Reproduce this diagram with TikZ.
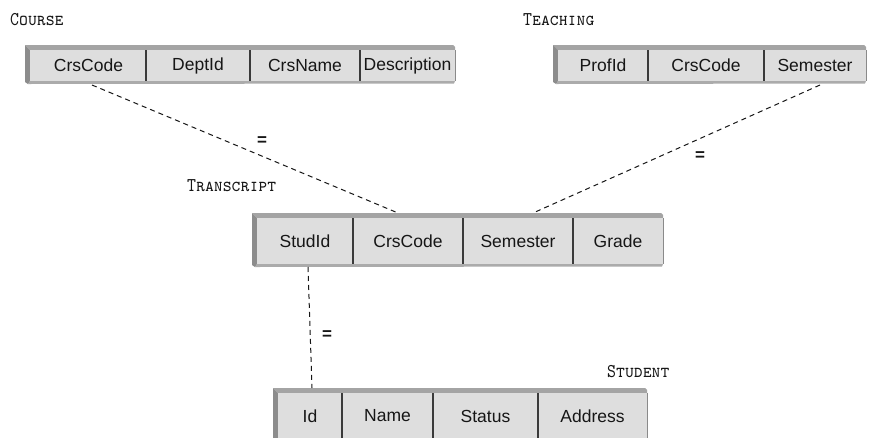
\documentclass[tikz,border=0pt]{standalone}
\usepackage{fontspec}
\setsansfont{Liberation Sans}
\usetikzlibrary{calc}

\definecolor{facegray}{HTML}{DEDEDE}
\definecolor{bandtop}{HTML}{A4A4A4}
\definecolor{bandleft}{HTML}{8C8C8C}
\definecolor{bandbottom}{HTML}{ABABAB}
\definecolor{edgegray}{HTML}{8A8A8A}
\definecolor{inkgray}{HTML}{161616}
\definecolor{divgray}{HTML}{3A3A3A}

% 3-D frame of a relation: #1 outer left, #2 outer top, #3 right, #4 face bottom
\newcommand\relframe[4]{%
  \fill[bandtop] (#1,#2) -- (#3-2,#2) -- (#3,#2+2) -- (#3,#2+5) -- (#1+5,#2+5) -- cycle;
  \fill[bandleft] (#1,#2) -- (#1+5,#2+5) -- (#1+5,#4) -- (#1+3,#4+3) -- (#1,#4+1) -- cycle;
  \fill[bandbottom] (#1+5,#4) -- (#3,#4) -- (#3-1,#4+2.5) -- (#1+3,#4+3) -- cycle;
  \fill[facegray] (#1+5,#2+5) rectangle (#3,#4);
  \draw[edgegray, line width=0.8] (#3,#2+5) -- (#3,#4);
}
% relation name in narrow typewriter small caps
\newcommand\relcaps[1]{\scalebox{0.87}[1]{\ttfamily\scshape\fontsize{19.5}{22}\selectfont #1}}

\tikzset{
  cell/.style={anchor=north west, inner sep=0, outer sep=0,
    minimum height=#1, font=\sffamily\fontsize{17.5}{20}\selectfont,
    text=inkgray},
  relname/.style={anchor=base west, inner sep=0, text=inkgray},
  divider/.style={divgray, line width=1.1},
  joinline/.style={inkgray, line width=1, dash pattern=on 5pt off 4pt},
  eqsign/.style={inner sep=0, text=inkgray, font=\sffamily\bfseries\fontsize{17}{20}\selectfont}
}

\begin{document}
\begin{tikzpicture}[x=1pt, y=-1pt]
\clip (0,0) rectangle (870,437);
\fill[white] (0,0) rectangle (870,437);

% COURSE
\node[relname] (courseName) at (10,25) {\relcaps{Course}};
\relframe{25}{45}{455}{81}
\node[cell=31, minimum width=115] (co1) at (31,50) {CrsCode};
\node[cell=31, minimum width=104] (co2) at (co1.north east) {DeptId};
\node[cell=31, minimum width=110] (co3) at (co2.north east) {CrsName};
\node[cell=31, minimum width=95]  (co4) at (co3.north east) {Description};
\foreach \c in {co1,co2,co3} \draw[divider] (\c.north east) -- (\c.south east);

% TEACHING
\node[relname] (teachName) at (523,25) {\relcaps{Teaching}};
\relframe{553}{45}{866}{81}
\node[cell=31, minimum width=90]  (te1) at (558,50) {ProfId};
\node[cell=31, minimum width=116] (te2) at (te1.north east) {CrsCode};
\node[cell=31, minimum width=102] (te3) at (te2.north east) {Semester};
\foreach \c in {te1,te2} \draw[divider] (\c.north east) -- (\c.south east);

% TRANSCRIPT
\node[relname] (transName) at (187,191) {\relcaps{Transcript}};
\relframe{252}{213}{663}{264}
\node[cell=46, minimum width=96]  (tr1) at (257,218) {StudId};
\node[cell=46, minimum width=110] (tr2) at (tr1.north east) {CrsCode};
\node[cell=46, minimum width=110] (tr3) at (tr2.north east) {Semester};
\node[cell=46, minimum width=90]  (tr4) at (tr3.north east) {Grade};
\foreach \c in {tr1,tr2,tr3} \draw[divider] (\c.north east) -- (\c.south east);

% STUDENT
\node[relname] (studName) at (607,377) {\relcaps{Student}};
\relframe{273}{388}{647}{439}
\node[cell=46, minimum width=64]  (st1) at (278,393) {Id};
\node[cell=46, minimum width=91]  (st2) at (st1.north east) {Name};
\node[cell=46, minimum width=105] (st3) at (st2.north east) {Status};
\node[cell=46, minimum width=109] (st4) at (st3.north east) {Address};
\foreach \c in {st1,st2,st3} \draw[divider] (\c.north east) -- (\c.south east);

% join conditions
\coordinate (jA) at ($(co1.south)+(3.5,4)$);
\coordinate (jB) at ($(tr2.north)+(-10,-5)$);
\coordinate (jC) at ($(te3.south)+(5,4)$);
\coordinate (jD) at ($(tr3.north)+(15,-5)$);
\coordinate (jE) at ($(tr1.south)+(3,3)$);
\coordinate (jF) at ($(st1.north)+(2,-5)$);
\draw[joinline] (jA) -- (jB);
\draw[joinline] (jC) -- (jD);
\draw[joinline] (jE) -- (jF);
\node[eqsign] (eq1) at (262,141) {=};
\node[eqsign] (eq2) at (700,156) {=};
\node[eqsign] (eq3) at (327,335) {=};
\end{tikzpicture}
\end{document}
